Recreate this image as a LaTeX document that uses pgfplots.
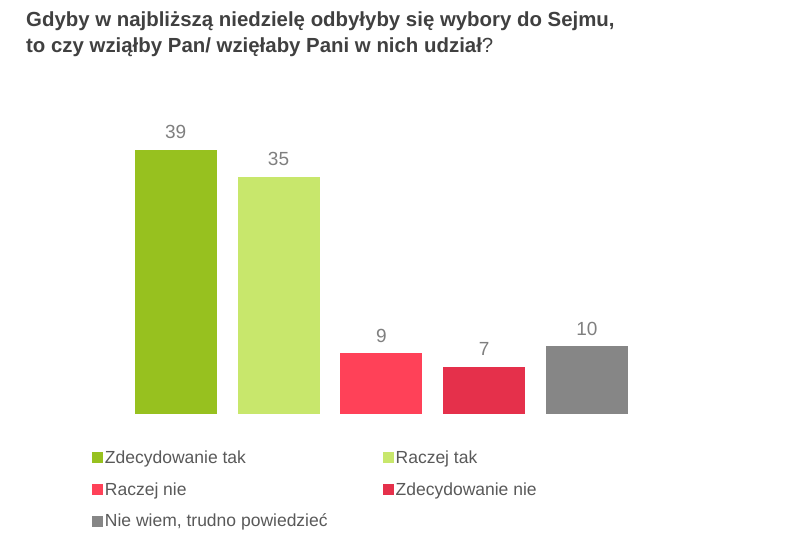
\documentclass[border=0pt]{standalone}
\usepackage{pgfplots}
\pgfplotsset{compat=1.18}
\usepackage{fontspec}
\setmainfont{Liberation Sans}
\definecolor{cA}{HTML}{97C11F}
\definecolor{cB}{HTML}{C8E76C}
\definecolor{cC}{HTML}{FF4158}
\definecolor{cD}{HTML}{E5304B}
\definecolor{cE}{HTML}{868686}
\definecolor{titlec}{HTML}{404040}
\definecolor{labc}{HTML}{7F7F7F}
\definecolor{legc}{HTML}{595959}
\begin{document}
\begin{tikzpicture}
\path[use as bounding box] (0pt,0pt) rectangle (800pt,533pt);
\node[anchor=base west, inner sep=0pt, text=titlec, font=\bfseries\fontsize{20.4}{24}\selectfont] at (26pt,506.3pt) {Gdyby w najbliższą niedzielę odbyłyby się wybory do Sejmu,};
\node[anchor=base west, inner sep=0pt, text=titlec, font=\bfseries\fontsize{20.4}{24}\selectfont] at (26pt,480.7pt) {to czy wziąłby Pan/ wzięłaby Pani w nich udział\textmd{?}};
\begin{axis}[
  at={(124.3pt,119pt)}, anchor=south west,
  scale only axis, width=514pt, height=305.1pt,
  xmin=-0.5, xmax=4.5, ymin=0, ymax=45,
  hide axis,
  /pgf/number format/assume math mode=true,
  ybar, bar width=82pt, bar shift=0pt,
  nodes near coords,
  every node near coord/.append style={font=\fontsize{19}{22}\selectfont, text=labc, inner sep=0pt, yshift=10.5pt},
  legend columns=2,
  legend cell align=left,
  legend image code/.code={\fill[#1] (0pt,-5.5pt) rectangle (11pt,5.5pt);},
  legend style={at={(-0.0634,-0.113)}, anchor=north west, draw=none, fill=none,
    font=\fontsize{17.5}{21}\selectfont, text=legc, inner sep=0pt, row sep=13.5pt,
    nodes={inner xsep=2pt},
    /tikz/every even column/.append style={column sep=53pt}},
]
\addplot[draw=none, fill=cA] coordinates {(0,39)};
\addlegendentry{Zdecydowanie tak}
\addplot[draw=none, fill=cB] coordinates {(1,35)};
\addlegendentry{Raczej tak}
\addplot[draw=none, fill=cC] coordinates {(2,9)};
\addlegendentry{Raczej nie}
\addplot[draw=none, fill=cD] coordinates {(3,7)};
\addlegendentry{Zdecydowanie nie}
\addplot[draw=none, fill=cE] coordinates {(4,10)};
\addlegendentry{Nie wiem, trudno powiedzieć}
\end{axis}
\end{tikzpicture}
\end{document}
